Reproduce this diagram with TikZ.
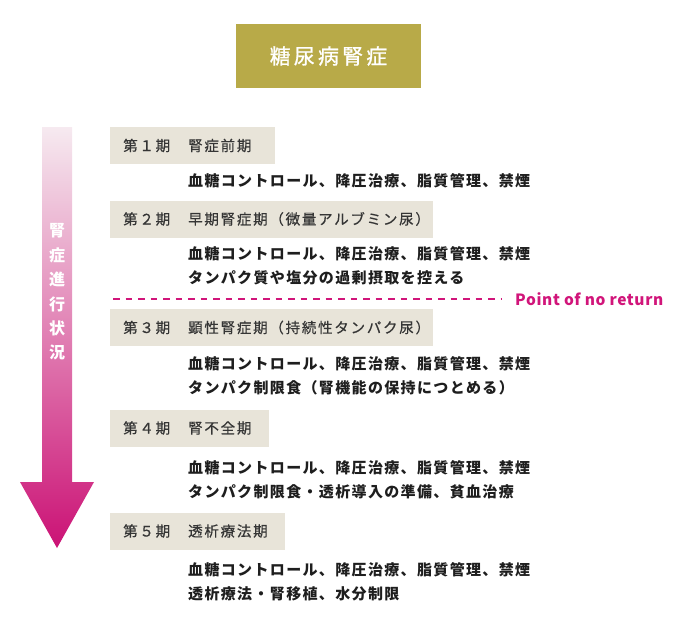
\documentclass[tikz,border=0pt]{standalone}
\usepackage{fontspec}
\setmainfont{Noto Sans CJK JP}
\newfontfamily\jpfont[LetterSpace=12, FakeBold=0.5]{Noto Sans CJK JP}
\newfontfamily\carefont[LetterSpace=9]{Noto Sans CJK JP}
\newfontfamily\titlefont[LetterSpace=15, FakeBold=1]{Noto Sans CJK JP}
\newfontfamily\latinfont[LetterSpace=4]{Noto Sans CJK JP}
\usepackage{xcolor}
\usepackage{tikz}
\usetikzlibrary{positioning}

\definecolor{titleolive}{HTML}{B8AA48}
\definecolor{stagebeige}{HTML}{E8E4D9}
\definecolor{noreturnpink}{HTML}{D1157A}
\definecolor{arrowtop}{HTML}{F6EAF0}
\definecolor{arrowbot}{HTML}{CB1275}
\definecolor{bodyink}{HTML}{1E1E1E}

\begin{document}
\begin{tikzpicture}[
    x=1pt, y=-1pt,
    titlebox/.style={rectangle, fill=titleolive, minimum width=185pt, minimum height=64pt,
                     text=white, font=\titlefont\fontsize{21}{24}\selectfont},
    stagebox/.style={rectangle, fill=stagebeige, minimum height=37pt, anchor=west, inner sep=0pt},
    stagelbl/.style={inner sep=0pt, anchor=west, text=bodyink!90, font=\jpfont\fontsize{14.5}{16}\selectfont},
    care/.style={inner sep=0pt, anchor=west, align=left, text=bodyink,
                 font=\carefont\bfseries\fontsize{15}{24}\selectfont},
    noreturn/.style={draw=noreturnpink, line width=2pt, dash pattern=on 6.5pt off 6pt},
]
\useasboundingbox (0,0) rectangle (680,630);

% Title
\node[titlebox] (title) at (328.5,56) {糖尿病腎症};

% Progress arrow
\shade[top color=arrowtop, bottom color=arrowbot]
    (42,127) -- (72,127) -- (72,482) -- (94,482) -- (57,548) -- (20,482) -- (42,482) -- cycle;
\node[align=center, text=white, inner sep=0pt, font=\bfseries\fontsize{16}{24.4}\selectfont]
    (progress) at (57,292) {腎\\症\\進\\行\\状\\況};

% Stage 1
\node[stagebox, minimum width=165pt] (s1) at (110,145.5) {};
\node[stagelbl, right=13pt of s1.west] (s1lbl) {第１期};
\node[stagelbl, right=78pt of s1.west] (s1name) {腎症前期};
\node[care] (s1care) at (188,181) {血糖コントロール、降圧治療、脂質管理、禁煙};

% Stage 2
\node[stagebox, minimum width=323pt] (s2) at (110,219) {};
\node[stagelbl, right=13pt of s2.west] (s2lbl) {第２期};
\node[stagelbl, right=78pt of s2.west] (s2name) {早期腎症期（微量アルブミン尿）};
\node[care] (s2care) at (188,266) {血糖コントロール、降圧治療、脂質管理、禁煙\\タンパク質や塩分の過剰摂取を控える};

% Point of no return
\node[inner sep=0pt, anchor=west, text=noreturnpink, font=\latinfont\bfseries\fontsize{15.5}{18}\selectfont]
    (pnr) at (515,299) {Point of no return};
\coordinate (pnrstart) at (113,299);
\draw[noreturn] (pnrstart) -- ([xshift=-13pt]pnr.west);

% Stage 3
\node[stagebox, minimum width=323pt] (s3) at (110,327.5) {};
\node[stagelbl, right=13pt of s3.west] (s3lbl) {第３期};
\node[stagelbl, right=78pt of s3.west] (s3name) {顕性腎症期（持続性タンパク尿）};
\node[care] (s3care) at (188,376) {血糖コントロール、降圧治療、脂質管理、禁煙\\タンパク制限食（腎機能の保持につとめる）};

% Stage 4
\node[stagebox, minimum width=159pt] (s4) at (110,428) {};
\node[stagelbl, right=13pt of s4.west] (s4lbl) {第４期};
\node[stagelbl, right=78pt of s4.west] (s4name) {腎不全期};
\node[care] (s4care) at (188,480) {血糖コントロール、降圧治療、脂質管理、禁煙\\タンパク制限食・透析導入の準備、貧血治療};

% Stage 5
\node[stagebox, minimum width=175pt] (s5) at (110,531) {};
\node[stagelbl, right=13pt of s5.west] (s5lbl) {第５期};
\node[stagelbl, right=78pt of s5.west] (s5name) {透析療法期};
\node[care] (s5care) at (188,582) {血糖コントロール、降圧治療、脂質管理、禁煙\\透析療法・腎移植、水分制限};

\end{tikzpicture}
\end{document}
